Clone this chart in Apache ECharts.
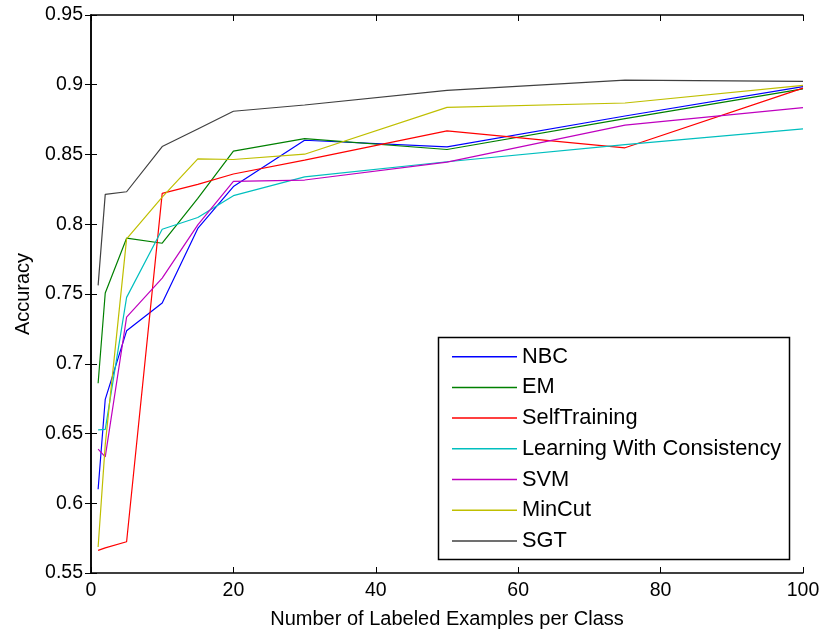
<!DOCTYPE html>
<html>
<head>
<meta charset="utf-8">
<script src="https://cdn.jsdelivr.net/npm/echarts@6/dist/echarts.min.js"></script>
<style>
  html, body { margin: 0; padding: 0; background: #fff; }
  #chart { width: 823px; height: 634px; }
</style>
</head>
<body>
<div id="chart"></div>
<script>
// Number of labeled examples per class (x positions)
const labeledCounts = [1, 2, 5, 10, 15, 20, 30, 50, 75, 100];

// Accuracy for each method
const nbc       = [0.610, 0.6745, 0.7236, 0.7436, 0.797, 0.827, 0.8602, 0.8555, 0.8776, 0.8986];
const em        = [0.686, 0.7507, 0.790, 0.7864, 0.8185, 0.8524, 0.8614, 0.8536, 0.8757, 0.897];
const selfTrain = [0.5662, 0.568, 0.5724, 0.8221, 0.8286, 0.836, 0.846, 0.8669, 0.8548, 0.8976];
const lwc       = [0.6526, 0.653, 0.7476, 0.7964, 0.8048, 0.8205, 0.834, 0.8448, 0.8571, 0.8684];
const svm       = [0.6388, 0.6333, 0.7334, 0.7614, 0.7995, 0.8307, 0.8317, 0.8445, 0.871, 0.8836];
const minCut    = [0.5686, 0.642, 0.7895, 0.8195, 0.8469, 0.8464, 0.8502, 0.8838, 0.8869, 0.8995];
const sgt       = [0.7562, 0.8214, 0.8233, 0.8557, 0.8683, 0.881, 0.8855, 0.896, 0.9033, 0.9024];

const seriesNames = ['NBC', 'EM', 'SelfTraining', 'Learning With Consistency', 'SVM', 'MinCut', 'SGT'];
const seriesValues = [nbc, em, selfTrain, lwc, svm, minCut, sgt];
const seriesColors = ['#0000ff', '#008000', '#ff0000', '#00bfbf', '#bf00bf', '#bfbf00', '#404040'];

const FONT = '"Liberation Sans", Arial, Helvetica, sans-serif';

const chart = echarts.init(document.getElementById('chart'), null, { renderer: 'canvas' });

const boxAxis = {
  axisLine: { show: true, lineStyle: { color: '#000', width: 1.5 } },
  axisTick: { show: true, inside: true, length: 6, lineStyle: { color: '#000', width: 1 } },
  splitLine: { show: false }
};

chart.setOption({
  animation: false,
  backgroundColor: '#fff',
  grid: { left: 91, right: 20, top: 15, bottom: 59, containLabel: false },
  xAxis: [
    Object.assign({
      type: 'value', min: 0, max: 100, interval: 20, position: 'bottom',
      name: 'Number of Labeled Examples per Class',
      nameLocation: 'middle', nameGap: 36,
      nameTextStyle: { fontFamily: FONT, fontSize: 20, color: '#000' },
      axisLabel: { fontFamily: FONT, fontSize: 19.5, color: '#000', margin: 8 }
    }, boxAxis),
    Object.assign({
      type: 'value', min: 0, max: 100, interval: 20, position: 'top',
      axisLabel: { show: false }
    }, boxAxis)
  ],
  yAxis: [
    Object.assign({
      type: 'value', min: 0.55, max: 0.95, interval: 0.05, position: 'left',
      name: 'Accuracy', nameLocation: 'middle', nameGap: 58, nameRotate: 90,
      nameTextStyle: { fontFamily: FONT, fontSize: 20, color: '#000' },
      axisLabel: {
        fontFamily: FONT, fontSize: 19.5, color: '#000', margin: 8,
        formatter: v => String(parseFloat(v.toFixed(2)))
      }
    }, boxAxis),
    Object.assign({
      type: 'value', min: 0.55, max: 0.95, interval: 0.05, position: 'right',
      axisLabel: { show: false }
    }, boxAxis)
  ],
  legend: {
    orient: 'vertical',
    left: 452, top: 345.7,
    padding: 0,
    icon: 'rect',
    itemWidth: 65, itemHeight: 1.5, itemGap: 8.7,
    textStyle: { fontFamily: FONT, fontSize: 21.8, color: '#000', lineHeight: 22 },
    data: seriesNames
  },
  graphic: [{
    type: 'rect', z: 0,
    shape: { x: 438.5, y: 337.5, width: 351, height: 222 },
    style: { fill: '#fff', stroke: '#000', lineWidth: 1.5 }
  }],
  series: seriesNames.map((name, i) => ({
    name,
    type: 'line',
    symbol: 'none',
    data: labeledCounts.map((x, j) => [x, seriesValues[i][j]]),
    lineStyle: { color: seriesColors[i], width: 1.2 },
    itemStyle: { color: seriesColors[i] },
    z: 2
  }))
});
</script>
</body>
</html>
